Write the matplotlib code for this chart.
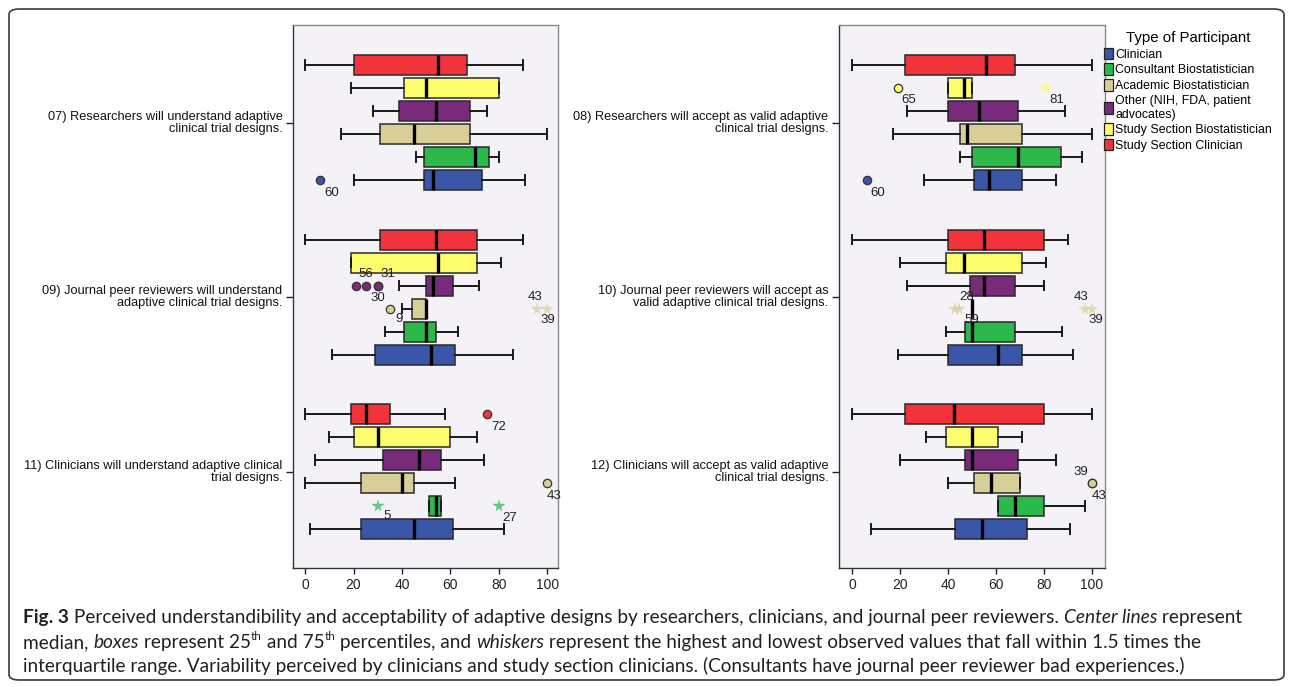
import matplotlib
matplotlib.use("Agg")
import matplotlib.pyplot as plt
from matplotlib.patches import Patch, FancyBboxPatch

plt.rcParams['font.family'] = ['Liberation Sans', 'DejaVu Sans']

W, H = 1292, 687

participants = ["Clinician", "Consultant Biostatistician", "Academic Biostatistician",
                "Other (NIH, FDA, patient\nadvocates)", "Study Section Biostatistician",
                "Study Section Clinician"]
colors = ["#3a56a8", "#2db84c", "#d8cf98", "#7a2a7a", "#fdfc6c", "#f2333c"]

left_questions = ["07) Researchers will understand adaptive\nclinical trial designs.",
                  "09) Journal peer reviewers will understand\nadaptive clinical trial designs.",
                  "11) Clinicians will understand adaptive clinical\ntrial designs."]
right_questions = ["08) Researchers will accept as valid adaptive\nclinical trial designs.",
                   "10) Journal peer reviewers will accept as\nvalid adaptive clinical trial designs.",
                   "12) Clinicians will accept as valid adaptive\nclinical trial designs."]

# whisker low, Q1, median, Q3, whisker high -- one row per participant type
q07 = [[20, 49, 53, 73, 91], [46, 49, 70, 76, 80], [15, 31, 45, 68, 100],
       [28, 39, 54, 68, 75], [19, 41, 50, 80, 80], [0, 20, 55, 67, 90]]
q09 = [[11, 29, 52, 62, 86], [33, 41, 50, 54, 63], [40, 44, 50, 50, 50],
       [39, 50, 53, 61, 72], [19, 19, 55, 71, 81], [0, 31, 54, 71, 90]]
q11 = [[2, 23, 45, 61, 82], [51, 51, 54, 56, 56], [0, 23, 40, 45, 62],
       [4, 32, 47, 56, 74], [10, 20, 30, 60, 71], [0, 19, 25, 35, 58]]
q08 = [[30, 51, 57, 71, 85], [45, 50, 69, 87, 96], [17, 45, 48, 71, 100],
       [23, 40, 53, 69, 89], [40, 40, 46.5, 50, 50], [0, 22, 56, 68, 100]]
q10 = [[19, 40, 61, 71, 92], [39, 47, 50, 68, 87.5], [50, 50, 50, 50, 50],
       [23, 49, 55, 68, 80], [20, 39, 46.5, 71, 81], [0, 40, 55, 80, 90]]
q12 = [[8, 43, 54, 73, 91], [61, 61, 68, 80, 97], [40, 51, 58, 70, 70],
       [20, 47, 50, 69, 85], [31, 39, 50, 61, 71], [0, 22, 42.5, 80, 100]]

# outliers: (question, participant index, value, kind, case label)
outliers = [
    ("q07", 0, 6, "o", "60"),
    ("q09", 3, 21, "o", ""), ("q09", 3, 25, "o", "56"), ("q09", 3, 30, "o", "31"),
    ("q09", 3, 30, "o", "30"),
    ("q09", 2, 35, "o", "9"), ("q09", 2, 96, "*", "43"), ("q09", 2, 100, "*", "39"),
    ("q11", 5, 75, "o", "72"), ("q11", 2, 100, "o", "43"),
    ("q11", 1, 30, "*", "5"), ("q11", 1, 80, "*", "27"),
    ("q08", 4, 19, "o", "65"), ("q08", 4, 81, "*", "81"), ("q08", 0, 6, "o", "60"),
    ("q10", 2, 43, "*", "28"), ("q10", 2, 44.6, "*", "59"),
    ("q10", 2, 97, "*", "43"), ("q10", 2, 100, "*", "39"),
    ("q12", 2, 100, "o", "39"), ("q12", 2, 100, "o", "43"),
]

# label placement in pixels (dx, dy up) relative to the point
label_px = {
    ("q07", "60"): (12, -13), ("q09", "56"): (0, 12), ("q09", "31"): (10, 12),
    ("q09", "30"): (0, -12), ("q09", "9"): (9, -10), ("q09", "43"): (-2, 12),
    ("q09", "39"): (1, -11), ("q11", "72"): (12, -13), ("q11", "43"): (7, -13),
    ("q11", "5"): (9, -10), ("q11", "27"): (11, -12), ("q08", "65"): (11, -12),
    ("q08", "81"): (11, -12), ("q08", "60"): (11, -13), ("q10", "28"): (11, 12),
    ("q10", "59"): (13, -11), ("q10", "43"): (-4, 12), ("q10", "39"): (4, -11),
    ("q12", "39"): (-11, 11), ("q12", "43"): (7, -13),
}

stats = {"q07": q07, "q09": q09, "q11": q11, "q08": q08, "q10": q10, "q12": q12}

step = 23 / 174.5
box_h = 20 / 174.5


def ypos(g, i):
    return g + (2.5 - i) * step


fig = plt.figure(figsize=(W / 100, H / 100), dpi=100)
ax_l = fig.add_axes([293 / W, 119 / H, 265 / W, 543 / H])
ax_r = fig.add_axes([839 / W, 119 / H, 266 / W, 543 / H])

panels = [(ax_l, ["q07", "q09", "q11"], left_questions, (-5, 104.5)),
          (ax_r, ["q08", "q10", "q12"], right_questions, (-5.5, 105.5))]

for ax, keys, questions, xlim in panels:
    ax.set_facecolor("#f5f2f7")
    for g, key in enumerate(keys):
        bstats, pos = [], []
        for i, row in enumerate(stats[key]):
            lo, q1, med, q3, hi = row
            bstats.append(dict(whislo=lo, q1=q1, med=med, q3=q3, whishi=hi, fliers=[]))
            pos.append(ypos(g, i))
        art = ax.bxp(bstats, positions=pos, widths=box_h, orientation="horizontal",
                     patch_artist=True, showfliers=False, capwidths=0.055,
                     boxprops=dict(edgecolor="#2a2a2a", linewidth=1.1),
                     medianprops=dict(color="black", linewidth=2.4, solid_capstyle="butt"),
                     whiskerprops=dict(color="#1a1a1a", linewidth=1.4),
                     capprops=dict(color="#1a1a1a", linewidth=1.4))
        for patch, c in zip(art["boxes"], colors):
            patch.set_facecolor(c)
        # outliers
        for qk, i, v, kind, lab in outliers:
            if qk != key:
                continue
            y = ypos(g, i)
            if kind == "o":
                ax.plot(v, y, "o", ms=6, mfc=colors[i], mec="#333333", mew=0.9, zorder=4)
            else:
                ax.plot(v, y, "*", ms=8.5, mfc=colors[i], mec=colors[i], mew=0.3,
                        alpha=0.7, zorder=4)
            if lab:
                dx, dy = label_px[(qk, lab)]
                ax.annotate(lab, (v, y), xytext=(dx * 0.72, dy * 0.72),
                            textcoords="offset points", ha="center", va="center",
                            fontsize=9.5, color="#222222")
        ax.annotate(questions[g], xy=(0, g), xycoords=("axes fraction", "data"),
                    xytext=(-7.5, 8.3), textcoords="offset points", ha="right", va="top",
                    fontsize=9.2, color="#111111", linespacing=0.98)
    ax.set_xlim(*xlim)
    ax.set_ylim(2.553, -0.559)
    ax.set_yticks([0, 1, 2])
    ax.set_yticklabels([])
    ax.set_xticks([0, 20, 40, 60, 80, 100])
    ax.tick_params(axis="y", length=5, width=1, color="#222222")
    ax.tick_params(axis="x", length=4, width=1, labelsize=10, color="#222222",
                   labelcolor="#222222", pad=3)
    for side, sp in ax.spines.items():
        sp.set_linewidth(1)
        sp.set_color("#333333" if side in ("left", "bottom") else "#8a8a8a")

handles = [Patch(facecolor=c, edgecolor="#222222", linewidth=0.9) for c in colors]
fig.legend(handles, participants, loc="upper left", bbox_to_anchor=(1104 / W, 1 - 31 / H),
           frameon=False, fontsize=8.9, title="Type of Participant", title_fontsize=10.8,
           handlelength=0.72, handleheight=1.05, handletextpad=0.2, labelspacing=0.22,
           borderpad=0, borderaxespad=0)

# outer rounded border
fig.patches.append(FancyBboxPatch((9 / W, 7 / H), 1275 / W, 671 / H,
                                  boxstyle="round,pad=0,rounding_size=0.008",
                                  transform=fig.transFigure, fill=False,
                                  edgecolor="#3a3a3a", linewidth=1.2))

# caption with mixed styles
fig.canvas.draw()
renderer = fig.canvas.get_renderer()
CAP_FONT = ["Lato", "DejaVu Sans"]
CAP_COLOR = "#231f20"

cap_lines = [
    [("Fig. 3", "b"), (" Perceived understandibility and acceptability of adaptive designs by "
                       "researchers, clinicians, and journal peer reviewers. ", "n"),
     ("Center lines", "i"), (" represent", "n")],
    [("median, ", "n"), ("boxes", "i"), (" represent 25", "n"), ("th", "s"), (" and 75", "n"),
     ("th", "s"), (" percentiles, and ", "n"), ("whiskers", "i"),
     (" represent the highest and lowest observed values that fall within 1.5 times the", "n")],
    [("interquartile range. Variability perceived by clinicians and study section clinicians. "
      "(Consultants have journal peer reviewer bad experiences.)", "n")],
]


def props(style, size):
    p = dict(family=CAP_FONT, color=CAP_COLOR, fontsize=size)
    if style == "b":
        p["fontweight"] = "bold"
    elif style == "i":
        p["fontstyle"] = "italic"
    elif style == "s":
        p["fontsize"] = size * 0.62
    return p


def run_width(txt, p):
    a = fig.text(0, 0, txt + "|", **p)
    b = fig.text(0, 0, "|", **p)
    w = a.get_window_extent(renderer).width - b.get_window_extent(renderer).width
    a.remove()
    b.remove()
    return w


base = 12.0
w1 = sum(run_width(t, props(s, base)) for t, s in cap_lines[0])
size = base * 1213 / w1

baselines = [623, 648, 672]
for line, yb in zip(cap_lines, baselines):
    x = 23
    for txt, style in line:
        p = props(style, size)
        dy = size * 0.42 / 0.72 if style == "s" else 0
        fig.text(x / W, 1 - (yb - dy) / H, txt, ha="left", va="baseline", **p)
        x += run_width(txt, p)

fig.savefig("out.png", dpi=100)
